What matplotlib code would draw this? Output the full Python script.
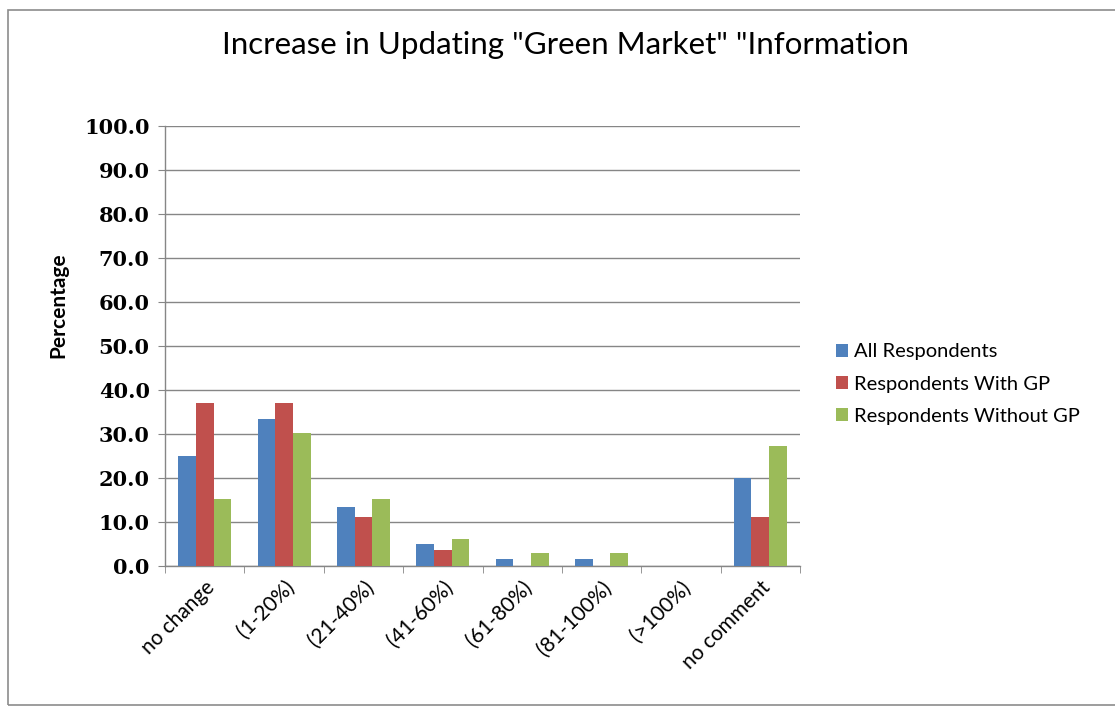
import matplotlib
matplotlib.use("Agg")
import matplotlib.pyplot as plt
import numpy as np
from matplotlib.patches import Rectangle

categories = ["no change", "(1-20%)", "(21-40%)", "(41-60%)", "(61-80%)",
              "(81-100%)", "(>100%)", "no comment"]
all_respondents = [25.0, 33.3, 13.3, 5.0, 1.7, 1.7, 0.0, 20.0]
with_gp = [37.0, 37.0, 11.1, 3.7, 0.0, 0.0, 0.0, 11.1]
without_gp = [15.2, 30.3, 15.2, 6.1, 3.0, 3.0, 0.0, 27.3]
series_names = ["All Respondents", "Respondents With GP", "Respondents Without GP"]
colors = ["#4F81BD", "#C0504D", "#9BBB59"]
yticks = np.arange(0, 101, 10)

W, H = 1115, 713
fig = plt.figure(figsize=(W / 100, H / 100), dpi=100)
fig.patch.set_facecolor("white")

# chart frame
fig.patches.append(Rectangle((8 / W, 1 - 705 / H), 1.2, (705 - 10) / H,
                             transform=fig.transFigure, fill=False,
                             edgecolor="#8c8c8c", linewidth=1.2))

ax = fig.add_axes([165 / W, 1 - 566 / H, (800 - 165) / W, (566 - 126) / H])
x = np.arange(len(categories))
bw = 1 / 4.5
for i, (vals, name, c) in enumerate(zip([all_respondents, with_gp, without_gp],
                                        series_names, colors)):
    ax.bar(x + (i - 1) * bw, vals, width=bw, color=c, label=name, zorder=3,
           linewidth=0)

ax.set_xlim(-0.5, len(categories) - 0.5)
ax.set_ylim(0, 100)
ax.set_yticks(yticks)
ax.set_yticklabels([f"{v:.1f}" for v in yticks],
                   fontdict={"family": "DejaVu Serif", "weight": "bold", "size": 15})
ax.yaxis.grid(True, color="#868686", linewidth=1.0, zorder=0)
ax.set_axisbelow(True)

ax.set_xticks(x)
ax.set_xticklabels(categories, rotation=45, ha="right", rotation_mode="anchor",
                   fontsize=15, family="Lato")
ax.set_xticks(np.arange(-0.5, len(categories)), minor=True)
ax.tick_params(axis="x", which="major", length=0, pad=8)
ax.tick_params(axis="x", which="minor", length=5, color="#868686", direction="out")
ax.tick_params(axis="y", length=5, color="#868686", direction="out", pad=6)

for s in ["top", "right"]:
    ax.spines[s].set_visible(False)
for s in ["left", "bottom"]:
    ax.spines[s].set_color("#868686")
    ax.spines[s].set_linewidth(1.0)

fig.text(58 / W, 1 - 305 / H, "Percentage", rotation=90, ha="center", va="center",
         fontsize=15, fontweight="bold", family="Lato")

fig.text(565 / W, 1 - 45 / H,
         'Increase in Updating "Green Market" "Information',
         ha="center", va="center", fontsize=22.5, family="Lato")

fig.legend(loc="center left", bbox_to_anchor=(818 / W, 1 - 384 / H),
           frameon=False, handlelength=0.6, handleheight=0.6, handletextpad=0.3,
           labelspacing=0.75, prop={"family": "Lato", "size": 14.5})

fig.savefig("out.png", dpi=100)
